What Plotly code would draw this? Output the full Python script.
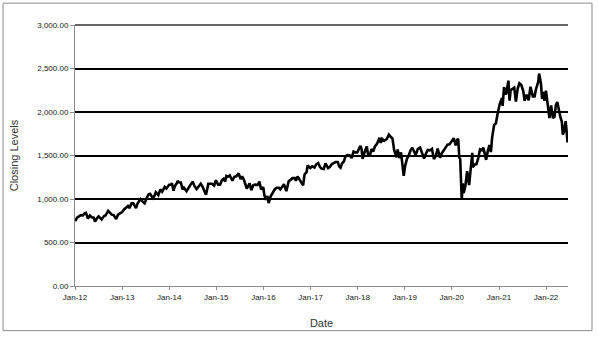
import plotly.graph_objects as go

dates = [
 "2012-01-03","2012-01-17","2012-02-01","2012-02-15","2012-03-01","2012-03-15","2012-03-26","2012-04-10","2012-04-25","2012-05-10","2012-05-25","2012-06-04","2012-06-15","2012-07-02","2012-07-16","2012-07-25","2012-08-10","2012-08-24","2012-09-14","2012-09-28","2012-10-12","2012-10-26","2012-11-15","2012-11-30","2012-12-14","2012-12-31",
 "2013-01-15","2013-01-31","2013-02-15","2013-02-26","2013-03-15","2013-03-28","2013-04-18","2013-04-30","2013-05-15","2013-05-22","2013-06-05","2013-06-24","2013-07-10","2013-07-25","2013-08-05","2013-08-27","2013-09-10","2013-09-19","2013-10-08","2013-10-24","2013-11-07","2013-11-27","2013-12-10","2013-12-31",
 "2014-01-15","2014-01-22","2014-02-03","2014-02-14","2014-03-04","2014-03-06","2014-03-20","2014-04-01","2014-04-14","2014-04-25","2014-05-15","2014-05-30","2014-06-13","2014-07-01","2014-07-15","2014-08-01","2014-08-15","2014-09-02","2014-09-15","2014-10-01","2014-10-13","2014-10-31","2014-11-14","2014-11-28","2014-12-15","2014-12-29",
 "2015-01-15","2015-01-30","2015-02-13","2015-02-27","2015-03-11","2015-03-20","2015-04-01","2015-04-15","2015-05-06","2015-05-20","2015-06-05","2015-06-23","2015-07-08","2015-07-20","2015-08-03","2015-08-25","2015-09-16","2015-09-29","2015-10-15","2015-10-30","2015-11-16","2015-12-01","2015-12-14","2015-12-31",
 "2016-01-08","2016-01-20","2016-02-01","2016-02-11","2016-02-26","2016-03-15","2016-03-31","2016-04-15","2016-04-29","2016-05-11","2016-05-31","2016-06-08","2016-06-27","2016-07-15","2016-07-29","2016-08-15","2016-08-31","2016-09-09","2016-09-22","2016-10-12","2016-11-04","2016-11-15","2016-12-01","2016-12-09","2016-12-30",
 "2017-01-13","2017-01-31","2017-02-15","2017-03-01","2017-03-14","2017-03-27","2017-04-13","2017-04-26","2017-05-17","2017-05-31","2017-06-14","2017-06-30","2017-07-14","2017-07-31","2017-08-10","2017-08-21","2017-09-01","2017-09-15","2017-09-29","2017-10-13","2017-10-31","2017-11-15","2017-11-30","2017-12-15","2017-12-29",
 "2018-01-12","2018-01-23","2018-02-01","2018-02-08","2018-02-23","2018-03-13","2018-03-23","2018-04-06","2018-04-18","2018-05-01","2018-05-15","2018-05-31","2018-06-20","2018-06-29","2018-07-10","2018-07-27","2018-08-15","2018-08-31","2018-09-14","2018-09-28","2018-10-11","2018-10-29","2018-11-07","2018-11-20","2018-12-03","2018-12-14","2018-12-24",
 "2019-01-04","2019-01-18","2019-02-01","2019-02-15","2019-03-01","2019-03-15","2019-03-27","2019-04-12","2019-04-30","2019-05-15","2019-05-31","2019-06-14","2019-06-28","2019-07-15","2019-07-31","2019-08-15","2019-08-30","2019-09-13","2019-10-02","2019-10-15","2019-10-31","2019-11-15","2019-11-29","2019-12-16","2019-12-31",
 "2020-01-16","2020-01-31","2020-02-14","2020-02-20","2020-02-28","2020-03-06","2020-03-12","2020-03-18","2020-03-26","2020-04-02","2020-04-15","2020-04-29","2020-05-14","2020-05-28","2020-06-08","2020-06-11","2020-06-26","2020-07-10","2020-07-24","2020-08-07","2020-08-21","2020-09-02","2020-09-23","2020-10-06","2020-10-19","2020-10-30","2020-11-09","2020-11-24","2020-12-08","2020-12-23",
 "2021-01-08","2021-01-25","2021-01-29","2021-02-09","2021-02-25","2021-03-15","2021-03-24","2021-04-01","2021-04-15","2021-04-29","2021-05-12","2021-05-26","2021-06-08","2021-06-23","2021-07-08","2021-07-19","2021-08-02","2021-08-19","2021-09-02","2021-09-20","2021-10-04","2021-10-15","2021-11-01","2021-11-08","2021-11-22","2021-12-01","2021-12-10","2021-12-20","2021-12-31",
 "2022-01-05","2022-01-14","2022-01-27","2022-02-09","2022-02-23","2022-03-07","2022-03-18","2022-03-29","2022-04-11","2022-04-22","2022-05-03","2022-05-11","2022-05-20","2022-06-02","2022-06-13","2022-06-16","2022-06-17",
]

closing = [
 745,785,800,815,810,835,840,775,810,790,785,740,770,800,780,765,800,810,864,835,820,815,770,820,830,849,
 880,902,920,895,950,951,895,947,985,998,975,950,1010,1055,1060,1010,1045,1078,1045,1110,1085,1140,1120,1163,
 1165,1180,1095,1150,1190,1208,1190,1190,1110,1130,1090,1135,1160,1200,1150,1115,1140,1175,1145,1100,1050,1175,1175,1175,1155,1215,
 1165,1165,1215,1233,1200,1265,1255,1270,1210,1255,1260,1295,1230,1260,1220,1120,1180,1100,1160,1165,1160,1200,1110,1136,
 1047,990,1035,953,1030,1075,1115,1130,1130,1110,1155,1170,1090,1205,1220,1240,1240,1210,1260,1210,1156,1280,1310,1385,1357,
 1375,1362,1400,1413,1370,1350,1345,1410,1355,1370,1400,1415,1425,1425,1375,1360,1405,1430,1490,1505,1502,1470,1545,1535,1535,
 1580,1610,1565,1460,1535,1605,1505,1500,1575,1545,1605,1635,1705,1645,1690,1670,1690,1740,1715,1695,1560,1480,1570,1470,1535,1410,1267,
 1380,1460,1500,1560,1590,1550,1505,1575,1592,1530,1465,1520,1565,1560,1575,1460,1495,1580,1475,1525,1560,1595,1625,1630,1668,
 1700,1615,1690,1680,1475,1460,1120,991,1180,1070,1150,1320,1160,1370,1530,1365,1395,1400,1470,1570,1560,1590,1450,1550,1620,1540,1710,1850,1870,1995,
 2100,2160,2070,2285,2200,2360,2130,2250,2270,2280,2120,2270,2330,2310,2240,2130,2200,2135,2290,2180,2180,2265,2345,2442,2330,2150,2230,2130,2245,
 2195,2120,1930,2075,1930,1945,2080,2115,2000,1940,1890,1740,1775,1895,1715,1650,1665,
]

tick_vals = ["2012-01-01","2013-01-01","2014-01-01","2015-01-01","2016-01-01","2017-01-01",
             "2018-01-01","2019-01-01","2020-01-01","2021-01-01","2022-01-01"]
tick_text = ["Jan-12","Jan-13","Jan-14","Jan-15","Jan-16","Jan-17",
             "Jan-18","Jan-19","Jan-20","Jan-21","Jan-22"]
y_ticks = [0, 500, 1000, 1500, 2000, 2500, 3000]
y_text = ["0.00","500.00","1,000.00","1,500.00","2,000.00","2,500.00","3,000.00"]
y_max = 3000

fig = go.Figure()
fig.add_trace(go.Scatter(x=dates, y=closing, mode="lines",
                         line=dict(color="black", width=2.6), showlegend=False))

axis_font = dict(family="Liberation Sans, Arial, sans-serif", size=8, color="#222222")
title_font = dict(family="Liberation Sans, Arial, sans-serif", size=11, color="#333333")
fig.update_layout(
    width=598, height=339,
    margin=dict(l=75, r=30, t=25, b=51),
    paper_bgcolor="white", plot_bgcolor="white",
    xaxis=dict(range=["2012-01-01", "2022-06-20"], tickmode="array",
               tickvals=tick_vals, ticktext=tick_text, tickfont=axis_font,
               showgrid=False, showline=True, linecolor="#8c8c8c", linewidth=1,
               ticks="outside", ticklen=3, tickcolor="#8c8c8c", zeroline=False,
               title=dict(text="Date", font=title_font, standoff=18)),
    yaxis=dict(range=[0, y_max], tickmode="array", tickvals=y_ticks, ticktext=y_text,
               tickfont=axis_font, showgrid=True, gridcolor="black", gridwidth=1.6,
               showline=True, linecolor="#8c8c8c", linewidth=1, zeroline=False,
               ticks="outside", ticklen=4, tickcolor="#8c8c8c",
               title=dict(text="Closing Levels", font=title_font, standoff=16)),
    shapes=[
        dict(type="rect", xref="paper", yref="paper",
             x0=-0.146, x1=1.0487, y0=-0.171, y1=1.0837,
             line=dict(color="#8c8c8c", width=1), layer="below"),
        dict(type="line", xref="paper", yref="paper", x0=0, x1=1, y0=1, y1=1,
             line=dict(color="#333333", width=1.6), layer="above"),
    ],
)

fig.write_html("out.html")
